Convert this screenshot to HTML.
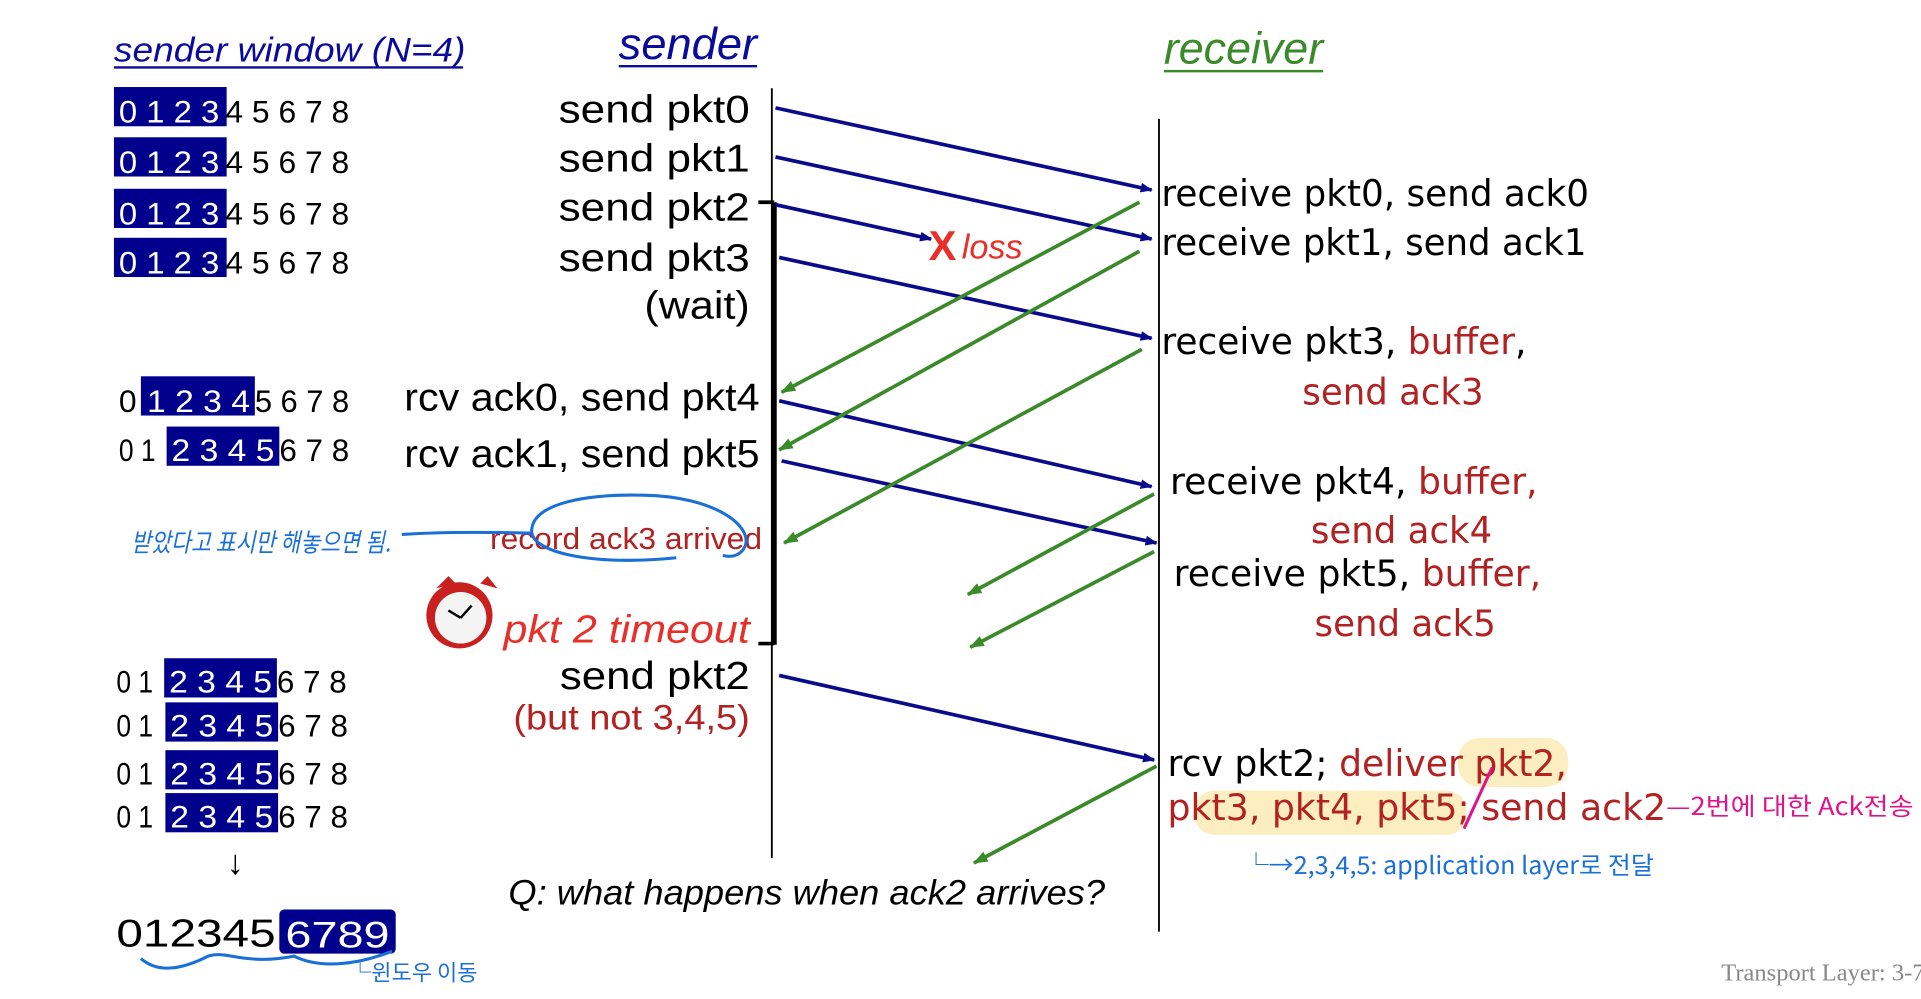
<!DOCTYPE html>
<html><head><meta charset="utf-8"><style>
html,body{margin:0;padding:0;background:#fff;}
svg{display:block;}
</style></head><body>
<svg width="1921" height="999" viewBox="0 0 1568 815" preserveAspectRatio="none" xmlns="http://www.w3.org/2000/svg">
<defs>
<marker id="ab" markerWidth="10" markerHeight="8" refX="9" refY="4" orient="auto" markerUnits="userSpaceOnUse"><path d="M0,0 L10,4 L0,8 z" fill="#0a0a8c"/></marker>
<marker id="ag" markerWidth="12" markerHeight="9" refX="11" refY="4.5" orient="auto" markerUnits="userSpaceOnUse"><path d="M0,0 L12,4.5 L0,9 z" fill="#3a8a2a"/></marker>
</defs>
<g font-family="Liberation Sans, sans-serif">
<!-- headers -->
<text x="93" y="50" font-size="28" font-style="italic" fill="#0a0a9c" textLength="287" lengthAdjust="spacingAndGlyphs">sender window (N=4)</text>
<line x1="93" y1="55" x2="378" y2="55" stroke="#0a0a9c" stroke-width="2"/>
<text x="505" y="48" font-size="36" font-style="italic" fill="#0a0a9c" textLength="113" lengthAdjust="spacingAndGlyphs">sender</text>
<line x1="505" y1="54" x2="618" y2="54" stroke="#0a0a9c" stroke-width="2"/>
<text x="950" y="52" font-size="36" font-style="italic" fill="#3a8a2a" textLength="130" lengthAdjust="spacingAndGlyphs">receiver</text>
<line x1="950" y1="58" x2="1080" y2="58" stroke="#3a8a2a" stroke-width="2"/>

<!-- window rows -->
<g font-size="26">
<rect x="93" y="71" width="92" height="32" fill="#00008c"/>
<text x="97" y="100" fill="#fff" textLength="82" lengthAdjust="spacingAndGlyphs">0 1 2 3</text><text x="184" y="100" fill="#000" textLength="101" lengthAdjust="spacingAndGlyphs">4 5 6 7 8</text>
<rect x="93" y="112" width="92" height="32" fill="#00008c"/>
<text x="97" y="141" fill="#fff" textLength="82" lengthAdjust="spacingAndGlyphs">0 1 2 3</text><text x="184" y="141" fill="#000" textLength="101" lengthAdjust="spacingAndGlyphs">4 5 6 7 8</text>
<rect x="93" y="154" width="92" height="32" fill="#00008c"/>
<text x="97" y="183" fill="#fff" textLength="82" lengthAdjust="spacingAndGlyphs">0 1 2 3</text><text x="184" y="183" fill="#000" textLength="101" lengthAdjust="spacingAndGlyphs">4 5 6 7 8</text>
<rect x="93" y="194" width="92" height="32" fill="#00008c"/>
<text x="97" y="223" fill="#fff" textLength="82" lengthAdjust="spacingAndGlyphs">0 1 2 3</text><text x="184" y="223" fill="#000" textLength="101" lengthAdjust="spacingAndGlyphs">4 5 6 7 8</text>

<text x="97" y="336" fill="#000">0</text>
<rect x="115" y="307" width="93" height="32" fill="#00008c"/>
<text x="120" y="336" fill="#fff" textLength="84" lengthAdjust="spacingAndGlyphs">1 2 3 4</text><text x="208" y="336" fill="#000" textLength="77" lengthAdjust="spacingAndGlyphs">5 6 7 8</text>
<text x="97" y="376" fill="#000" textLength="30" lengthAdjust="spacingAndGlyphs">0 1</text>
<rect x="136" y="348" width="92" height="32" fill="#00008c"/>
<text x="140" y="376" fill="#fff" textLength="84" lengthAdjust="spacingAndGlyphs">2 3 4 5</text><text x="228" y="376" fill="#000" textLength="57" lengthAdjust="spacingAndGlyphs">6 7 8</text>

<text x="95" y="565" fill="#000" textLength="30" lengthAdjust="spacingAndGlyphs">0 1</text>
<rect x="134" y="537" width="92" height="32" fill="#00008c"/>
<text x="138" y="565" fill="#fff" textLength="84" lengthAdjust="spacingAndGlyphs">2 3 4 5</text><text x="226" y="565" fill="#000" textLength="57" lengthAdjust="spacingAndGlyphs">6 7 8</text>
<text x="95" y="601" fill="#000" textLength="30" lengthAdjust="spacingAndGlyphs">0 1</text>
<rect x="135" y="573" width="92" height="32" fill="#00008c"/>
<text x="139" y="601" fill="#fff" textLength="84" lengthAdjust="spacingAndGlyphs">2 3 4 5</text><text x="227" y="601" fill="#000" textLength="57" lengthAdjust="spacingAndGlyphs">6 7 8</text>
<text x="95" y="640" fill="#000" textLength="30" lengthAdjust="spacingAndGlyphs">0 1</text>
<rect x="135" y="612" width="92" height="32" fill="#00008c"/>
<text x="139" y="640" fill="#fff" textLength="84" lengthAdjust="spacingAndGlyphs">2 3 4 5</text><text x="227" y="640" fill="#000" textLength="57" lengthAdjust="spacingAndGlyphs">6 7 8</text>
<text x="95" y="675" fill="#000" textLength="30" lengthAdjust="spacingAndGlyphs">0 1</text>
<rect x="135" y="647" width="92" height="32" fill="#00008c"/>
<text x="139" y="675" fill="#fff" textLength="84" lengthAdjust="spacingAndGlyphs">2 3 4 5</text><text x="227" y="675" fill="#000" textLength="57" lengthAdjust="spacingAndGlyphs">6 7 8</text>
</g>

<!-- timelines -->
<line x1="630" y1="72" x2="630" y2="700" stroke="#000" stroke-width="1.5"/>
<line x1="632" y1="165" x2="632" y2="526" stroke="#000" stroke-width="4"/>
<line x1="619" y1="165" x2="632" y2="165" stroke="#000" stroke-width="3"/>
<line x1="619" y1="525" x2="632" y2="525" stroke="#000" stroke-width="3"/>
<line x1="946" y1="97" x2="946" y2="760" stroke="#000" stroke-width="1.5"/>

<!-- sender labels -->
<g font-size="32" fill="#000" text-anchor="end">
<text x="612" y="100" textLength="156" lengthAdjust="spacingAndGlyphs">send  pkt0</text>
<text x="612" y="140" textLength="156" lengthAdjust="spacingAndGlyphs">send  pkt1</text>
<text x="612" y="180" textLength="156" lengthAdjust="spacingAndGlyphs">send  pkt2</text>
<text x="612" y="221" textLength="156" lengthAdjust="spacingAndGlyphs">send  pkt3</text>
<text x="612" y="260" textLength="86" lengthAdjust="spacingAndGlyphs">(wait)</text>
<text x="620" y="335" textLength="290" lengthAdjust="spacingAndGlyphs">rcv ack0, send pkt4</text>
<text x="620" y="381" textLength="290" lengthAdjust="spacingAndGlyphs">rcv ack1, send pkt5</text>
<text x="612" y="562" textLength="155" lengthAdjust="spacingAndGlyphs">send  pkt2</text>
</g>
<text x="622" y="448" font-size="25" fill="#b22222" text-anchor="end" textLength="222" lengthAdjust="spacingAndGlyphs">record ack3 arrived</text>
<text x="612" y="524" font-size="32" font-style="italic" fill="#e8302a" text-anchor="end" textLength="201" lengthAdjust="spacingAndGlyphs">pkt 2 timeout</text>
<text x="612" y="595" font-size="29" fill="#b22222" text-anchor="end" textLength="193" lengthAdjust="spacingAndGlyphs">(but not 3,4,5)</text>

<!-- receiver labels -->
<g font-family="DejaVu Sans, sans-serif" font-size="30">
<text x="948" y="168" fill="#000" textLength="349" lengthAdjust="spacingAndGlyphs">receive pkt0, send ack0</text>
<text x="948" y="208" fill="#000" textLength="347" lengthAdjust="spacingAndGlyphs">receive pkt1, send ack1</text>
<text x="948" y="289" textLength="298" lengthAdjust="spacingAndGlyphs"><tspan fill="#000">receive pkt3, </tspan><tspan fill="#b22222">buffer</tspan><tspan fill="#000">,</tspan></text>
<text x="1063" y="330" fill="#b22222" textLength="148" lengthAdjust="spacingAndGlyphs">send ack3</text>
<text x="955" y="403" textLength="300" lengthAdjust="spacingAndGlyphs"><tspan fill="#000">receive pkt4, </tspan><tspan fill="#b22222">buffer,</tspan></text>
<text x="1070" y="443" fill="#b22222" textLength="148" lengthAdjust="spacingAndGlyphs">send ack4</text>
<text x="958" y="478" textLength="300" lengthAdjust="spacingAndGlyphs"><tspan fill="#000">receive pkt5, </tspan><tspan fill="#b22222">buffer,</tspan></text>
<text x="1073" y="519" fill="#b22222" textLength="148" lengthAdjust="spacingAndGlyphs">send ack5</text>
</g>
<!-- highlights -->
<rect x="1190" y="602" width="90" height="40" rx="18" fill="#fbeab0" opacity="0.8"/>
<rect x="975" y="645" width="222" height="36" rx="16" fill="#fbeab0" opacity="0.8"/>
<g font-family="DejaVu Sans, sans-serif" font-size="30">
<text x="953" y="633" textLength="326" lengthAdjust="spacingAndGlyphs"><tspan fill="#000">rcv pkt2; </tspan><tspan fill="#b22222">deliver pkt2,</tspan></text>
<text x="953" y="669" fill="#b22222" textLength="407" lengthAdjust="spacingAndGlyphs">pkt3, pkt4, pkt5; send ack2</text>
</g>

<!-- blue arrows -->
<g stroke="#0a0a8c" stroke-width="3" fill="none" marker-end="url(#ab)">
<line x1="633" y1="88" x2="940" y2="155"/>
<line x1="633" y1="128" x2="940" y2="195"/>
<line x1="633" y1="167" x2="760" y2="195"/>
<line x1="636" y1="210" x2="940" y2="276"/>
<line x1="636" y1="327" x2="940" y2="397"/>
<line x1="638" y1="376" x2="944" y2="443"/>
<line x1="636" y1="551" x2="942" y2="620"/>
</g>
<!-- green arrows -->
<g stroke="#3a8a2a" stroke-width="3" fill="none" marker-end="url(#ag)">
<line x1="930" y1="165" x2="638" y2="320"/>
<line x1="930" y1="205" x2="636" y2="367"/>
<line x1="932" y1="285" x2="640" y2="443"/>
<line x1="942" y1="403" x2="790" y2="485"/>
<line x1="942" y1="450" x2="792" y2="528"/>
<line x1="944" y1="625" x2="795" y2="704"/>
</g>
<text x="758" y="212" font-size="34" font-weight="bold" fill="#e8302a">X</text>
<text x="785" y="211" font-size="28" font-style="italic" fill="#e8302a">loss</text>

<text x="415" y="738" font-size="29" font-style="italic" fill="#000" textLength="487" lengthAdjust="spacingAndGlyphs">Q: what happens when ack2 arrives?</text>
<text x="1405" y="800" font-family="Liberation Serif, serif" font-size="20" fill="#888">Transport Layer: 3-7</text>

<!-- clock -->
<circle cx="375" cy="502" r="27" fill="#c8201e"/>
<circle cx="376" cy="504" r="21" fill="#f4f4f4"/>
<path d="M356,480 L366,470 L372,476 Z M392,476 L398,470 L406,480 Z" fill="#c8201e"/>
<line x1="376" y1="504" x2="366" y2="498" stroke="#000" stroke-width="2"/>
<line x1="376" y1="504" x2="385" y2="494" stroke="#000" stroke-width="2"/>

<!-- handwritten annotations -->
<g font-family="Noto Sans CJK KR, sans-serif">
<text x="107" y="450" font-size="21" fill="#1a6fd8" font-style="italic" textLength="212" lengthAdjust="spacingAndGlyphs">받았다고 표시만 해놓으면 됨.</text>
<text x="1360" y="665" font-size="20" fill="#e0148a" textLength="202" lengthAdjust="spacingAndGlyphs">—2번에 대한 Ack전송</text>
<text x="1015" y="713" font-size="20" fill="#1a6fd8" textLength="335" lengthAdjust="spacingAndGlyphs">└→2,3,4,5: application layer로 전달</text>
<text x="285" y="800" font-size="18" fill="#1a6fd8">└윈도우 이동</text>
</g>
<path d="M328,436 C360,434 400,434 435,435" stroke="#1a6fd8" stroke-width="2.5" fill="none"/>
<path d="M552,455 C480,462 432,450 434,432 C436,410 480,403 525,404 C585,405 615,430 608,446 C604,454 596,455 590,453" stroke="#1a6fd8" stroke-width="2.5" fill="none"/>
<path d="M1218,626 L1195,676" stroke="#e0148a" stroke-width="2.5"/>
<text x="185" y="713" font-size="28" fill="#000">↓</text>
<text x="95" y="772" font-size="32" fill="#000" textLength="130" lengthAdjust="spacingAndGlyphs">012345</text>
<rect x="228" y="742" width="95" height="36" rx="4" fill="#00008c"/>
<text x="233" y="773" font-size="30" fill="#fff" textLength="85" lengthAdjust="spacingAndGlyphs">6789</text>
<path d="M115,782 C130,795 150,790 170,780 C185,775 200,788 240,780 C260,790 290,788 320,776" stroke="#1a6fd8" stroke-width="2.5" fill="none"/>
</g>
</svg>
</body></html>
